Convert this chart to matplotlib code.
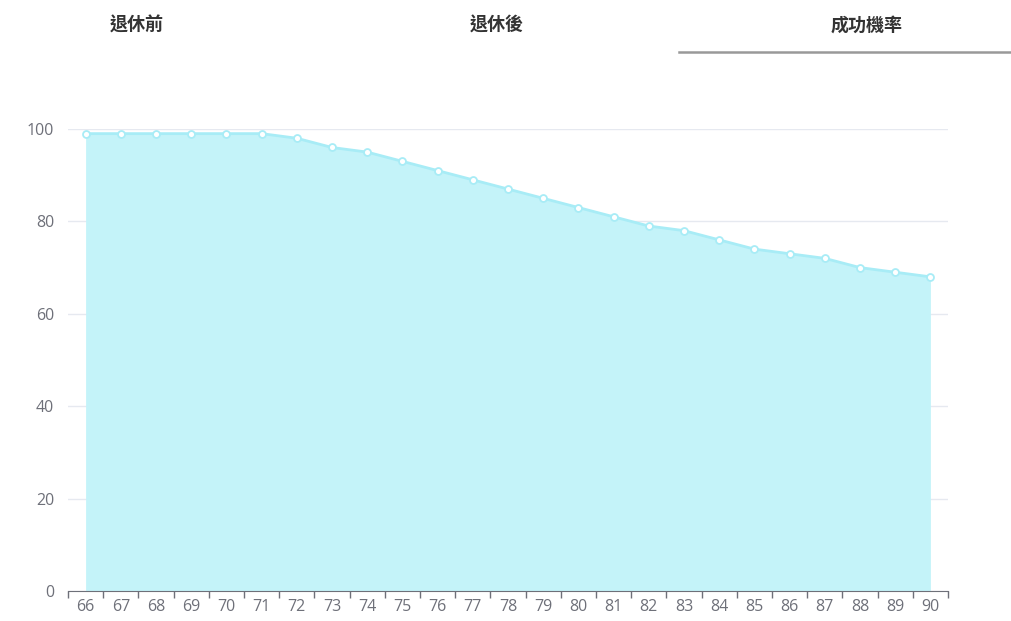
import numpy as np
from matplotlib import pyplot as plt

plt.rcParams['font.family'] = ['Noto Sans CJK TC', 'DejaVu Sans']

# --- Data ---
ages = [str(a) for a in range(66, 91)]
success_rate = [99, 99, 99, 99, 99, 99, 98, 96, 95, 93, 91, 89, 87, 85,
                83, 81, 79, 78, 76, 74, 73, 72, 70, 69, 68]
tab_labels = ["退休前", "退休後", "成功機率"]

# --- Figure ---
fig = plt.figure(figsize=(10.11, 6.21), dpi=100)
ax = fig.add_axes([68 / 1011, 1 - 591 / 621, 880 / 1011, 462 / 621])

x = np.arange(len(ages))
ax.fill_between(x, success_rate, 0, color="#c4f3f9", linewidth=0, zorder=2)
ax.plot(x, success_rate, color="#a8ecf6", linewidth=2, zorder=3,
        marker="o", markersize=5, markerfacecolor="white",
        markeredgecolor="#a8ecf6", markeredgewidth=1.3)

ax.set_xlim(-0.5, len(ages) - 0.5)
ax.set_ylim(0, 100)
ax.set_yticks([0, 20, 40, 60, 80, 100])
ax.yaxis.grid(True, color="#e6e9f0", linewidth=1, zorder=1)
ax.set_axisbelow(True)

# category ticks sit on the boundaries, labels in the middle
ax.set_xticks(np.arange(-0.5, len(ages)), labels=[])
ax.set_xticks(x, labels=ages, minor=True)
ax.tick_params(axis="x", which="major", length=5, color="#6e7079", width=1)
ax.tick_params(axis="x", which="minor", length=0, pad=6,
               labelsize=11.5, labelcolor="#6e7079")
ax.tick_params(axis="y", length=0, pad=10, labelsize=11.5, labelcolor="#6e7079")
for lbl in ax.get_xticklabels(minor=True) + ax.get_yticklabels():
    lbl.set_fontfamily(["Open Sans", "DejaVu Sans"])

for side in ["top", "right", "left"]:
    ax.spines[side].set_visible(False)
ax.spines["bottom"].set_color("#6e7079")

# --- Tabs on top ---
tab_x = [137, 497, 867]
for label, tx in zip(tab_labels, tab_x):
    fig.text(tx / 1011, 1 - 25 / 621, label, ha="center", va="center",
             fontsize=13, fontweight="bold", color="#333333")
fig.add_artist(plt.Line2D([679 / 1011, 1], [1 - 52 / 621] * 2,
                          color="#999999", linewidth=1.8))

fig.savefig("out.png", dpi=100)
